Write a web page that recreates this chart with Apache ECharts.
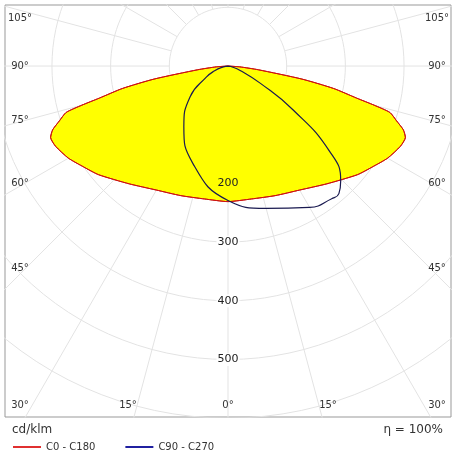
<!DOCTYPE html>
<html>
<head>
<meta charset="utf-8">
<script src="https://cdn.jsdelivr.net/npm/echarts@6/dist/echarts.min.js"></script>
<style>html,body{margin:0;padding:0;background:#fff}#chart{width:456px;height:456px}</style>
</head>
<body>
<div id="chart"></div>
<script>
// gamma angle (deg from nadir, negative = left) and intensity cd/klm
var c0Angles = [0, 10, 20, 30, 40, 50, 55, 60, 65, 68, 70, 72, 74, 75, 76, 78, 80, 83, 86, 90];
var c0Values = [231, 230, 235, 244, 262, 288, 300, 314, 324, 326, 318, 302, 287, 258, 226, 184, 128, 52, 20, 0];
var c90Angles = [-90, -80, -70, -63, -51, -36, -20, 0, 15, 30, 38, 41, 44.5, 50, 56, 62, 70, 80, 90];
var c90Values = [0, 8, 25, 41, 83, 128, 176, 229, 251, 278, 287, 288, 274, 226, 134, 62, 22, 5, 0];
var rings = [100, 200, 300, 400, 500, 600];
var ringLabels = [200, 300, 400, 500];
var spokeAngles = [-165, -150, -135, -120, -105, -90, -75, -60, -45, -30, -15, 0, 15, 30, 45, 60, 75, 90, 105, 120, 135, 150, 165, 180];

function toXY(deg, r) {
    var a = deg * Math.PI / 180;
    return [r * Math.sin(a), -r * Math.cos(a)];
}

// C0-C180 is symmetric: mirror the half curve
var c0Pts = [];
for (var i = c0Angles.length - 1; i >= 0; i--) c0Pts.push(toXY(-c0Angles[i], c0Values[i]));
for (var i = 1; i < c0Angles.length; i++) c0Pts.push(toXY(c0Angles[i], c0Values[i]));
var c90Pts = c90Angles.map(function (a, i) { return toXY(a, c90Values[i]); });

var gridSeries = [];
rings.forEach(function (r) {
    var pts = [];
    for (var d = 0; d <= 360; d += 3) pts.push(toXY(d, r));
    gridSeries.push({type: 'line', data: pts, symbol: 'none', silent: true, clip: true,
        lineStyle: {color: '#e3e3e3', width: 1}, z: 1});
});
spokeAngles.forEach(function (a) {
    gridSeries.push({type: 'line', data: [toXY(a, 100), toXY(a, 900)], symbol: 'none', silent: true, clip: true,
        lineStyle: {color: '#e3e3e3', width: 1}, z: 1});
});

var option = {
    animation: false,
    grid: {left: 5, top: 5, width: 446, height: 412, show: true, borderColor: '#999', borderWidth: 1},
    xAxis: {type: 'value', min: -380, max: 380, show: false},
    yAxis: {type: 'value', min: -598, max: 104, show: false},
    legend: {
        left: 8, top: 437, itemWidth: 28, itemHeight: 2, itemGap: 30, icon: 'rect',
        textStyle: {fontFamily: 'DejaVu Sans', fontSize: 10, color: '#333'},
        data: [{name: 'C0 - C180', itemStyle: {color: '#e03030'}}, {name: 'C90 - C270', itemStyle: {color: '#2020a0'}}]
    },
    series: gridSeries.concat([
        {
            type: 'custom', silent: true, z: 2, data: [0],
            renderItem: function (params, api) {
                return {type: 'polygon', shape: {points: c0Pts.map(function (p) { return api.coord(p); }), smooth: 0.2},
                    style: {fill: '#ffff00', stroke: '#cc1010', lineWidth: 1}};
            }
        },
        {name: 'C0 - C180', type: 'line', data: c0Pts, symbol: 'none', smooth: 0.2, z: 3,
            lineStyle: {color: '#cc1010', width: 1}},
        {name: 'C90 - C270', type: 'line', data: c90Pts, symbol: 'none', smooth: 0.5, z: 4,
            lineStyle: {color: '#1a1a50', width: 1.2}}
    ])
};

var chart = echarts.init(document.getElementById('chart'));
chart.setOption(option);

var txt = {fontFamily: 'DejaVu Sans', fontSize: 10, fill: '#333'};
var angleLabels = [
    ['105°', 20, 18], ['90°', 20, 66], ['75°', 20, 120], ['60°', 20, 183], ['45°', 20, 268], ['30°', 20, 405],
    ['105°', 437, 18], ['90°', 437, 66], ['75°', 437, 120], ['60°', 437, 183], ['45°', 437, 268], ['30°', 437, 405],
    ['15°', 128, 405], ['0°', 228, 405], ['15°', 328, 405]
];
var graphics = angleLabels.map(function (l) {
    return {type: 'text', x: l[1], y: l[2], style: Object.assign({text: l[0], align: 'center', verticalAlign: 'middle'}, txt), z: 10};
});
ringLabels.forEach(function (r) {
    var p = chart.convertToPixel({gridIndex: 0}, [0, -r]);
    graphics.push({type: 'text', x: p[0], y: p[1], z: 10,
        style: Object.assign({text: String(r), align: 'center', verticalAlign: 'middle',
            backgroundColor: r > 200 ? '#fff' : null, padding: [1, 1]}, txt, {fontSize: 11, fill: '#222'})});
});
graphics.push({type: 'text', x: 12, y: 430, style: Object.assign({text: 'cd/klm', verticalAlign: 'middle'}, txt, {fontSize: 12})});
graphics.push({type: 'text', x: 443, y: 430, style: Object.assign({text: 'η = 100%', align: 'right', verticalAlign: 'middle'}, txt, {fontSize: 12})});
chart.setOption({graphic: graphics});
</script>
</body>
</html>
